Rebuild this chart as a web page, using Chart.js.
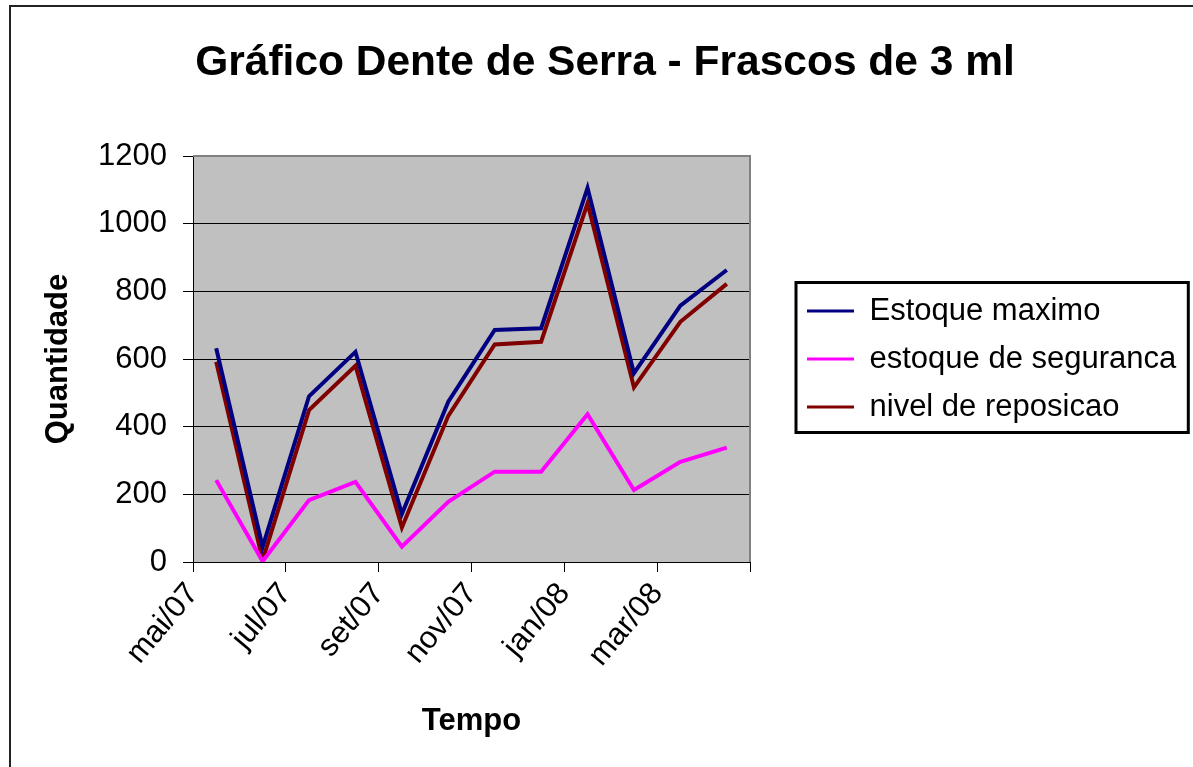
<!DOCTYPE html>
<html>
<head>
<meta charset="utf-8">
<script src="https://cdn.jsdelivr.net/npm/chart.js@4/dist/chart.umd.min.js"></script>
<style>
  html, body { margin: 0; padding: 0; background: #fff; overflow: hidden; }
  #wrap { width: 1193px; height: 767px; }
</style>
</head>
<body>
<div id="wrap"><canvas id="serra"></canvas></div>
<script>
const months = ['mai/07', 'jun/07', 'jul/07', 'ago/07', 'set/07', 'out/07', 'nov/07', 'dez/07', 'jan/08', 'fev/08', 'mar/08', 'abr/08'];
const estoqueMaximo = [632, 45, 490, 621, 142, 474, 686, 691, 1106, 558, 758, 863];
const estoqueSeguranca = [242, 2, 183, 237, 45, 178, 267, 267, 437, 213, 296, 338];
const nivelReposicao = [592, 5, 449, 580, 102, 432, 643, 651, 1060, 516, 710, 822];
const yMax = 1200;
const yStep = 200;
const monthStep = 2;

Chart.defaults.font.family = '"Liberation Sans", Arial, sans-serif';
Chart.defaults.color = '#000';

// gray plot area, gray top/right frame, outer chart frame, legend box
const frame = {
  id: 'frame',
  afterInit(chart) {
    const leg = chart.legend;
    const fit = leg.fit;
    leg.fit = function () { fit.call(this); this.width = 400; };
  },
  beforeDraw(chart) {
    const { ctx, chartArea: a } = chart;
    ctx.save();
    ctx.fillStyle = '#c0c0c0';
    ctx.fillRect(a.left, a.top, a.right - a.left, a.bottom - a.top);
    ctx.strokeStyle = '#222';
    ctx.lineWidth = 2;
    ctx.beginPath();
    ctx.moveTo(10, 800);
    ctx.lineTo(10, 6);
    ctx.lineTo(1300, 6);
    ctx.stroke();
    ctx.restore();
  },
  beforeDatasetsDraw(chart) {
    const { ctx, chartArea: a } = chart;
    ctx.save();
    ctx.strokeStyle = '#808080';
    ctx.lineWidth = 2;
    ctx.beginPath();
    ctx.moveTo(a.left, a.top);
    ctx.lineTo(a.right, a.top);
    ctx.lineTo(a.right, a.bottom);
    ctx.stroke();
    ctx.restore();
  },
  afterDraw(chart) {
    const boxes = chart.legend.legendHitBoxes;
    if (!boxes || !boxes.length) return;
    const left = Math.min(...boxes.map(b => b.left)) - 11;
    const right = Math.max(...boxes.map(b => b.left + b.width)) + 12;
    const top = boxes[0].top - 13;
    const last = boxes[boxes.length - 1];
    const bottom = last.top + last.height + 10;
    const ctx = chart.ctx;
    ctx.save();
    ctx.strokeStyle = '#000';
    ctx.lineWidth = 3;
    ctx.strokeRect(left, top, right - left, bottom - top);
    ctx.restore();
  }
};

new Chart(document.getElementById('serra'), {
  type: 'line',
  data: {
    labels: months,
    datasets: [
      { label: 'Estoque maximo', data: estoqueMaximo, borderColor: '#000080', backgroundColor: '#000080' },
      { label: 'estoque de seguranca', data: estoqueSeguranca, borderColor: '#ff00ff', backgroundColor: '#ff00ff' },
      { label: 'nivel de reposicao', data: nivelReposicao, borderColor: '#800000', backgroundColor: '#800000' }
    ]
  },
  options: {
    responsive: true,
    maintainAspectRatio: false,
    animation: false,
    layout: { padding: { left: 20, right: 3, top: 0, bottom: 0 } },
    elements: {
      line: { borderWidth: 4, tension: 0 },
      point: { radius: 0, hoverRadius: 0 }
    },
    scales: {
      x: {
        type: 'category',
        display: false,
        offset: true
      },
      xTime: {
        type: 'linear',
        position: 'bottom',
        min: 0,
        max: months.length,
        afterFit: (scale) => { scale.height = 205; },
        ticks: {
          stepSize: monthStep,
          autoSkip: false,
          maxRotation: 50,
          minRotation: 50,
          padding: 4,
          font: { size: 31 },
          callback: (v) => months[v] || ''
        },
        grid: { drawOnChartArea: false, drawTicks: true, tickLength: 10, color: '#000' },
        border: { color: '#000', width: 1 },
        title: {
          display: true,
          text: 'Tempo',
          font: { size: 31, weight: 'bold' },
          padding: { top: 0, bottom: 27 }
        }
      },
      y: {
        min: 0,
        max: yMax,
        afterFit: (scale) => { scale.width = 173; },
        ticks: { stepSize: yStep, padding: 16, font: { size: 31 }, callback: (v) => String(v) },
        grid: { color: '#000', tickLength: 10 },
        border: { color: '#000', width: 1 },
        title: {
          display: true,
          text: 'Quantidade',
          font: { size: 31, weight: 'bold' },
          padding: { top: 20, bottom: 0 }
        }
      },
      spacer: {
        type: 'linear',
        position: 'right',
        afterFit: (scale) => { scale.width = 40; },
        ticks: { display: false },
        grid: { display: false },
        border: { display: false }
      }
    },
    plugins: {
      title: {
        display: true,
        text: 'Gráfico Dente de Serra - Frascos de 3 ml',
        font: { size: 42.5, weight: 'bold' },
        color: '#000',
        padding: { top: 38, bottom: 67 }
      },
      legend: {
        position: 'right',
        fullSize: false,
        labels: {
          boxWidth: 47,
          boxHeight: 3,
          padding: 17,
          font: { size: 31 },
          color: '#000',
          generateLabels: (chart) => Chart.defaults.plugins.legend.labels.generateLabels(chart)
            .map(item => ({ ...item, fillStyle: item.strokeStyle, lineWidth: 0 }))
        }
      },
      tooltip: { enabled: false }
    }
  },
  plugins: [frame]
});
</script>
</body>
</html>
